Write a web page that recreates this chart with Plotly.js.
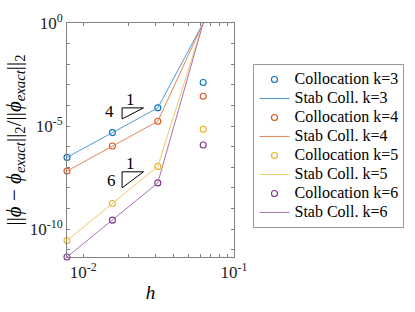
<!DOCTYPE html>
<html>
<head>
<meta charset="utf-8">
<script src="https://cdn.plot.ly/plotly-3.0.1.min.js"></script>
<style>html,body{margin:0;padding:0;background:#fff;}#chart{width:415px;height:312px;}</style>
</head>
<body>
<div id="chart"></div>
<script>
var h = [1/128, 1/64, 1/32, 1/16];
var coll3 = [3.0e-7, 4.8e-6, 7.6e-5, 1.29e-3];
var stab3 = [3.0e-7, 4.8e-6, 7.6e-5, 1];
var coll4 = [6.5e-8, 1.07e-6, 1.7e-5, 2.8e-4];
var stab4 = [6.5e-8, 1.07e-6, 1.7e-5, 1];
var coll5 = [2.8e-11, 1.74e-9, 1.1e-7, 6.9e-6];
var stab5 = [2.8e-11, 1.74e-9, 1.1e-7, 1];
var coll6 = [4.4e-12, 2.7e-10, 1.74e-8, 1.2e-6];
var stab6 = [4.4e-12, 2.7e-10, 1.74e-8, 1];

var tri4x = [0.01811, 0.02512, 0.01811, 0.01811];
var tri4y = [7.58e-5, 7.58e-5, 2.2e-5, 7.58e-5];
var tri6x = [0.01811, 0.02512, 0.01811, 0.01811];
var tri6y = [6.0e-8, 6.0e-8, 1.0e-8, 6.0e-8];

function pw(e){ return '10<sup>' + e + '</sup>'; }
var xTickVals = [0.01,0.02,0.03,0.04,0.05,0.06,0.07,0.08,0.09,0.1];
var xTickText = [pw('-2'),' ',' ',' ',' ',' ',' ',' ',' ',pw('-1')];
var yTickVals = [1,1e-1,1e-2,1e-3,1e-4,1e-5,1e-6,1e-7,1e-8,1e-9,1e-10,1e-11];
var yTickText = [pw('0'),' ',' ',' ',' ',pw('-5'),' ',' ',' ',' ',pw('-10'),' '];

var colors = ['#0072BD','#D95319','#EDB120','#7E2F8E'];
var lineColors = ['#4F9BD6','#E3835A','#F2C868','#A672B0'];
var colls = [coll3, coll4, coll5, coll6];
var stabs = [stab3, stab4, stab5, stab6];
var ks = [3,4,5,6];

function lbl(t){ return '<span style="font-size:16px">' + t + '</span>'; }

var data = [];
for (var i = 0; i < 4; i++) {
  data.push({x: h, y: colls[i], type: 'scatter', mode: 'markers', name: lbl('Collocation k=' + ks[i]),
    cliponaxis: false,
    marker: {symbol: 'circle-open', size: 6, color: colors[i], line: {width: 1.1, color: colors[i]}}});
  data.push({x: h, y: stabs[i], type: 'scatter', mode: 'lines', name: lbl('Stab Coll. k=' + ks[i]),
    line: {color: lineColors[i], width: 1}});
}
data.push({x: tri4x, y: tri4y, type: 'scatter', mode: 'lines', showlegend: false, hoverinfo: 'skip',
  line: {color: '#000', width: 1}});
data.push({x: tri6x, y: tri6y, type: 'scatter', mode: 'lines', showlegend: false, hoverinfo: 'skip',
  line: {color: '#000', width: 1}});

var serif = 'Liberation Serif';
var axisColor = '#808080';

var layout = {
  width: 415, height: 312,
  margin: {l: 67, r: 180, t: 23, b: 55, pad: 0},
  paper_bgcolor: '#fff', plot_bgcolor: '#fff',
  font: {family: serif, color: '#000', size: 14},
  showlegend: true,
  legend: {x: 1.11, xanchor: 'left', y: 0.825, yanchor: 'top',
    bordercolor: '#999', borderwidth: 1, bgcolor: '#fff',
    font: {family: serif, size: 12, color: '#000'}, itemwidth: 30, tracegroupgap: 0},
  xaxis: {type: 'log', range: [Math.log10(1/128), -1], tickmode: 'array', tickvals: xTickVals, ticktext: xTickText,
    tickangle: 0,
    ticks: 'inside', ticklen: 3, tickcolor: axisColor, showline: true, linecolor: axisColor, linewidth: 1,
    mirror: 'ticks', showgrid: false, zeroline: false, tickfont: {family: serif, size: 17, color: '#222'},
    title: {text: '<i>h</i>', font: {family: serif, size: 19, color: '#000'}, standoff: 4}},
  yaxis: {type: 'log', range: [-11.357, 0], tickmode: 'array', tickvals: yTickVals, ticktext: yTickText,
    ticks: 'inside', ticklen: 3, tickcolor: axisColor, showline: true, linecolor: axisColor, linewidth: 1,
    mirror: 'ticks', showgrid: false, zeroline: false, tickfont: {family: serif, size: 17, color: '#222'},
    title: {text: '||<i>ϕ</i> − <i>ϕ</i><sub><i>exact</i></sub>||<sub>2</sub>/||<i>ϕ</i><sub><i>exact</i></sub>||<sub>2</sub>',
      font: {family: serif, size: 21, color: '#000'}, standoff: 2}},
  annotations: [
    {x: Math.log10(0.02075), y: Math.log10(1.9e-4), xref: 'x', yref: 'y', text: '1', showarrow: false, font: {family: serif, size: 17, color: '#000'}},
    {x: Math.log10(0.01493), y: Math.log10(4.8e-5), xref: 'x', yref: 'y', text: '4', showarrow: false, font: {family: serif, size: 17, color: '#000'}},
    {x: Math.log10(0.02075), y: Math.log10(1.55e-7), xref: 'x', yref: 'y', text: '1', showarrow: false, font: {family: serif, size: 17, color: '#000'}},
    {x: Math.log10(0.0153), y: Math.log10(2.2e-8), xref: 'x', yref: 'y', text: '6', showarrow: false, font: {family: serif, size: 17, color: '#000'}}
  ]
};

Plotly.newPlot('chart', data, layout, {staticPlot: true, displayModeBar: false});
</script>
</body>
</html>
